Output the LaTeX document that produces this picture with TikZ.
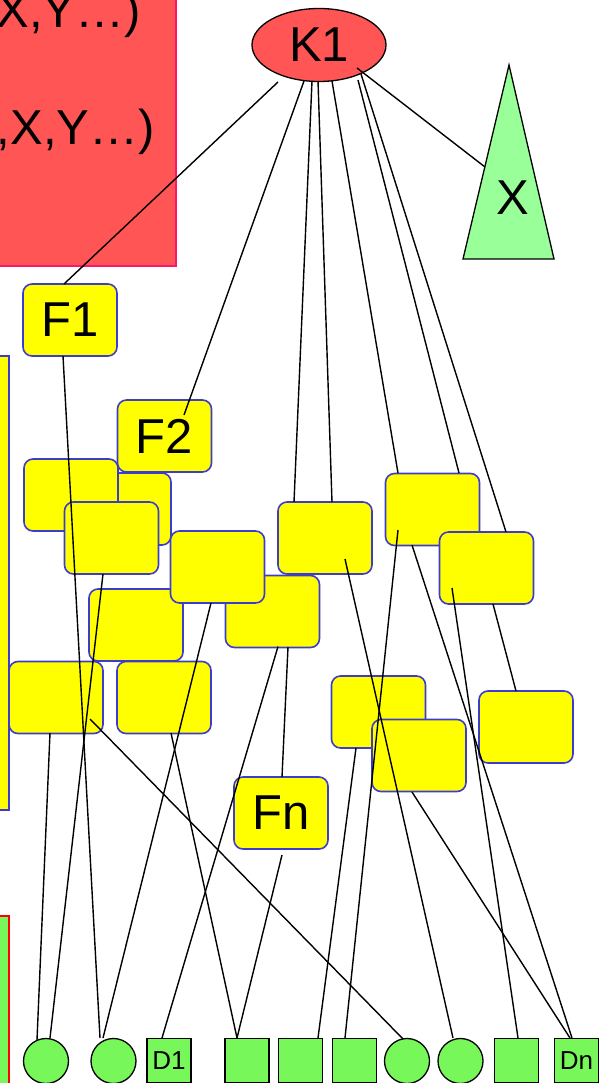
\documentclass[tikz,border=0pt]{standalone}
\usepackage{fontspec}
\setmainfont{Liberation Sans}
\usetikzlibrary{shapes.geometric}
\definecolor{kred}{RGB}{255,85,85}
\definecolor{kpink}{RGB}{255,20,110}
\definecolor{yfill}{RGB}{255,255,0}
\definecolor{yborder}{RGB}{60,60,205}
\definecolor{tgreen}{RGB}{153,255,153}
\definecolor{dgreen}{RGB}{119,247,90}
\newcommand\bigfnt{\fontsize{49}{58}\selectfont}
\newcommand\smallfnt{\fontsize{26}{30}\selectfont}
\begin{document}
\begin{tikzpicture}[x=1pt,y=-1pt,
  ybox/.style={draw=yborder, fill=yfill, line width=1.6pt, rounded corners=9pt,
    minimum width=94pt, minimum height=72pt, inner sep=0pt, font=\bigfnt},
  dcirc/.style={circle, draw=black, fill=dgreen, line width=1.3pt, minimum size=45pt, inner sep=0pt},
  dsq/.style={rectangle, draw=black, fill=dgreen, line width=1.3pt, minimum size=44pt, inner sep=0pt, font=\smallfnt},
  conn/.style={draw=black, line width=1.4pt},
  redtxt/.style={anchor=base east, font=\bigfnt, inner sep=0pt}]
\useasboundingbox (0,0) rectangle (599,1083);
\clip (0,0) rectangle (599,1083);
\fill[white] (0,0) rectangle (599,1083);
% red rectangle with text
\draw[fill=kred, draw=kpink, line width=1.3pt] (-60,-20) rectangle (176,266);
\node[redtxt] (t1) at (141,28) {X,Y…)};
\node[redtxt] (t2) at (155,145) {,X,Y…)};
% triangle X
\draw[fill=tgreen, draw=black, line width=1.3pt] (509,65) -- (554,259) -- (463,259) -- cycle;
\node[font=\bigfnt, inner sep=0pt] (x) at (513,198) {X};
\coordinate (xt) at (485,167);
% K1
\node[ellipse, draw=black, fill=kred, line width=1.3pt, minimum width=134pt, minimum height=73pt, inner sep=0pt, font=\bigfnt] (k1) at (319,45) {K1};
% left side rectangles
\draw[fill=yfill, draw=yborder, line width=1.6pt] (-60,356) rectangle (9,810);
\draw[fill=dgreen, draw=red, line width=1.3pt] (-60,916) rectangle (9,1100);
% yellow boxes
\node[ybox] (f1) at (70,320) {F1};
\node[ybox] (b) at (124,509) {};
\node[ybox] (a) at (71,495) {};
\node[ybox] (c) at (111.5,538) {};
\node[ybox] (f2) at (164.5,436) {F2};
\node[ybox] (e) at (272.5,611.5) {};
\node[ybox] (g) at (136,625) {};
\node[ybox] (d) at (217.5,567) {};
\node[ybox] (h) at (56,697.5) {};
\node[ybox] (i) at (164,697.5) {};
\node[ybox] (j) at (325,538) {};
\node[ybox] (k) at (432.5,509.5) {};
\node[ybox] (l) at (486.5,568) {};
\node[ybox] (m) at (378.5,712) {};
\node[ybox] (n) at (419,755.5) {};
\node[ybox] (o) at (526,727) {};
\node[ybox] (fn) at (281,813) {Fn};
% bottom row
\node[dcirc] (c1) at (46,1061) {};
\node[dcirc] (c2) at (113.5,1061) {};
\node[dsq] (d1) at (169,1060.5) {D1};
\node[dsq] (s1) at (247,1060.5) {};
\node[dsq] (s2) at (300.5,1060.5) {};
\node[dsq] (s3) at (354.5,1060.5) {};
\node[dcirc] (c3) at (407,1061) {};
\node[dcirc] (c4) at (460.5,1061) {};
\node[dsq] (s7) at (516.5,1060.5) {};
\node[dsq] (dn) at (576.5,1060.5) {Dn};
% connectors from K1
\draw[conn] ([shift={(-41,37)}]k1.center) -- ([shift={(-6,-36)}]f1.center);
\draw[conn] ([shift={(-15,36)}]k1.center) -- ([shift={(19.5,-21)}]f2.center);
\draw[conn] ([shift={(-7,36)}]k1.center) -- ([shift={(-31,-36)}]j.center);
\draw[conn] ([shift={(-1,36)}]k1.center) -- ([shift={(7,-36)}]j.center);
\draw[conn] ([shift={(13,36)}]k1.center) -- ([shift={(-34.5,-36.5)}]k.center);
\draw[conn] ([shift={(39,35)}]k1.center) -- ([shift={(26.5,-36.5)}]k.center);
\draw[conn] ([shift={(42,29)}]k1.center) -- ([shift={(19.5,-36)}]l.center);
\draw[conn] ([shift={(38,23)}]k1.center) -- (xt);
% lower connectors
\draw[conn] ([shift={(-7,36)}]f1.center) -- ([shift={(-13.5,-23)}]c2.center);
\draw[conn] ([shift={(-8.5,36)}]c.center) -- ([shift={(4,-23)}]c1.center);
\draw[conn] ([shift={(-6,35.5)}]h.center) -- ([shift={(-9,-21)}]c1.center);
\draw[conn] ([shift={(-6.5,36)}]d.center) -- ([shift={(-10.5,-23)}]c2.center);
\draw[conn] ([shift={(5.5,35)}]e.center) -- ([shift={(-7,-22.5)}]d1.center);
\draw[conn] ([shift={(7,35.5)}]i.center) -- ([shift={(-10,-22.5)}]s1.center);
\draw[conn] ([shift={(34,21.5)}]h.center) -- ([shift={(-4,-22)}]c3.center);
\draw[conn] ([shift={(1,42)}]fn.center) -- ([shift={(-10,-22.5)}]s1.center);
\draw[conn] ([shift={(15.5,35.5)}]e.center) -- ([shift={(1,-36)}]fn.center);
\draw[conn] ([shift={(20,21)}]j.center) -- ([shift={(-7.5,-23)}]c4.center);
\draw[conn] ([shift={(-34.5,20.5)}]k.center) -- ([shift={(-9.5,-22.5)}]s3.center);
\draw[conn] ([shift={(-20.5,35.5)}]k.center) -- ([shift={(-4.5,-22.5)}]dn.center);
\draw[conn] ([shift={(-34.5,20)}]l.center) -- ([shift={(1.5,-22.5)}]s7.center);
\draw[conn] ([shift={(6.5,36)}]l.center) -- ([shift={(-10,-36)}]o.center);
\draw[conn] ([shift={(-22.5,36)}]m.center) -- ([shift={(17.5,-22.5)}]s2.center);
\draw[conn] ([shift={(-7,36.5)}]n.center) -- ([shift={(-6.5,-22.5)}]dn.center);
\end{tikzpicture}
\end{document}
